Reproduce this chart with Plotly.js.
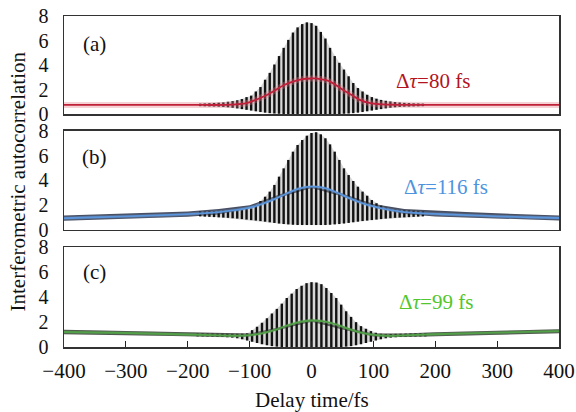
<!DOCTYPE html>
<html>
<head>
<meta charset="utf-8">
<script src="https://cdn.plot.ly/plotly-3.0.1.min.js"></script>
<style>html,body{margin:0;padding:0;background:#fff;}#chart{width:576px;height:412px;}</style>
</head>
<body>
<div id="chart"></div>
<script>
// ---------- Data ----------
// Panel (a): fringe positions (fs), fringe maxima and minima
var fringeDelayA = [-180,-172.5,-165,-157.5,-150,-142.5,-135,-127.5,-120,-112.5,-105,-97.5,-90,-82.5,-75,-67.5,-60,-52.5,-45,-37.5,-30,-22.5,-15,-7.5,0,7.5,15,22.5,30,37.5,45,52.5,60,67.5,75,82.5,90,97.5,105,112.5,120,127.5,135,142.5,150,157.5,165,172.5,180];
var fringeUpperA = [0.85,0.86,0.88,0.9,0.92,0.95,1.0,1.05,1.12,1.22,1.38,1.5,1.84,2.2,2.8,3.36,4.04,4.73,5.4,6.05,6.65,7.07,7.34,7.48,7.42,7.2,6.7,6.16,5.4,4.73,4.18,3.63,3.08,2.53,2.12,1.84,1.57,1.38,1.25,1.15,1.08,1.02,0.98,0.94,0.91,0.89,0.87,0.86,0.85];
var fringeLowerA = [0.64,0.63,0.62,0.61,0.6,0.58,0.55,0.51,0.46,0.4,0.34,0.28,0.22,0.16,0.11,0.07,0.04,0.02,0,0,0,0,0,0,0,0,0,0,0,0,0,0.02,0.04,0.07,0.11,0.16,0.22,0.28,0.34,0.4,0.46,0.51,0.55,0.58,0.6,0.61,0.62,0.63,0.64];
var envDelayA = [-400,-200,-130,-105,-88,-72,-60,-45,-30,-15,0,10,25,40,50,65,78,95,115,140,200,400];
var envA      = [0.74,0.74,0.76,0.88,1.2,1.55,1.9,2.35,2.65,2.85,2.9,2.88,2.75,2.35,2.0,1.55,1.15,0.88,0.78,0.75,0.74,0.74];

// Panel (b)
var fringeDelayB = [-180,-172.5,-165,-157.5,-150,-142.5,-135,-127.5,-120,-112.5,-105,-97.5,-90,-82.5,-75,-67.5,-60,-52.5,-45,-37.5,-30,-22.5,-15,-7.5,0,7.5,15,22.5,30,37.5,45,52.5,60,67.5,75,82.5,90,97.5,105,112.5,120,127.5,135,142.5,150,157.5,165,172.5,180];
var fringeUpperB = [1.5,1.5,1.52,1.53,1.55,1.57,1.58,1.6,1.63,1.66,1.7,1.75,2.02,2.34,2.69,3.1,3.64,4.31,4.98,5.66,6.33,6.87,7.27,7.62,7.84,7.9,7.73,7.41,6.92,6.33,5.66,4.98,4.44,3.96,3.5,3.1,2.77,2.42,2.16,1.97,1.8,1.7,1.65,1.62,1.6,1.58,1.55,1.52,1.5];
var fringeLowerB = [1.1,1.08,1.06,1.04,1.02,1.0,0.98,0.95,0.92,0.88,0.84,0.8,0.76,0.72,0.67,0.62,0.57,0.52,0.48,0.45,0.42,0.4,0.4,0.4,0.4,0.4,0.4,0.4,0.42,0.45,0.48,0.52,0.57,0.62,0.67,0.72,0.76,0.8,0.84,0.88,0.92,0.95,0.98,1.0,1.02,1.04,1.06,1.08,1.1];
var bandDelayB = [-400,-350,-300,-250,-200,-150,-100,-50,0,50,100,150,200,250,300,350,400];
var bandUpperB = [1.18,1.26,1.33,1.41,1.5,1.7,2.0,2.9,3.55,2.95,2.1,1.7,1.55,1.45,1.35,1.26,1.18];
var bandLowerB = [0.74,0.82,0.9,0.98,1.08,1.25,1.75,2.65,3.4,2.7,1.85,1.3,1.1,1.0,0.92,0.84,0.76];
var envDelayB = [-400,-350,-300,-250,-200,-150,-120,-100,-80,-60,-40,-20,0,20,40,60,80,100,120,150,200,250,300,350,400];
var envB      = [0.95,1.03,1.1,1.18,1.28,1.45,1.62,1.8,2.1,2.5,2.95,3.35,3.5,3.4,3.05,2.6,2.2,1.9,1.68,1.45,1.3,1.2,1.1,1.03,0.97];

// Panel (c)
var fringeDelayC = [-184,-176,-168,-160,-152,-144,-136,-128,-120,-112,-104,-96,-88,-80,-72,-64,-56,-48,-40,-32,-24,-16,-8,0,8,16,24,32,40,48,56,64,72,80,88,96,104,112,120,128,136,144,152,160,168,176,184];
var fringeUpperC = [1.08,1.08,1.07,1.07,1.06,1.06,1.05,1.05,1.05,1.06,1.09,1.35,1.62,1.94,2.3,2.68,3.05,3.47,3.92,4.27,4.64,4.9,5.11,5.19,5.16,5.03,4.72,4.32,3.92,3.39,2.86,2.41,1.99,1.67,1.46,1.27,1.14,1.06,1.04,1.04,1.05,1.06,1.07,1.08,1.09,1.1,1.1];
var fringeLowerC = [0.85,0.85,0.84,0.83,0.82,0.8,0.78,0.75,0.7,0.62,0.52,0.42,0.32,0.22,0.14,0.07,0.03,0,0,0,0,0,0,0,0,0,0,0,0,0,0.03,0.07,0.14,0.22,0.32,0.42,0.52,0.62,0.7,0.75,0.78,0.8,0.82,0.83,0.84,0.85,0.85];
var bandDelayC = [-400,-300,-200,-150,-100,-50,0,50,100,150,200,300,400];
var bandUpperC = [1.38,1.28,1.14,1.08,1.08,1.6,2.22,1.6,1.08,1.08,1.18,1.3,1.42];
var bandLowerC = [1.02,0.96,0.86,0.8,0.85,1.4,2.02,1.4,0.85,0.8,0.88,1.0,1.1];
var envDelayC = [-400,-300,-200,-150,-120,-100,-80,-60,-40,-20,0,20,40,60,80,100,120,150,200,300,400];
var envC      = [1.2,1.12,1.0,0.93,0.9,0.95,1.1,1.35,1.7,2.0,2.12,2.05,1.8,1.45,1.15,0.97,0.9,0.93,1.02,1.15,1.27];

var xTicks = [-400,-300,-200,-100,0,100,200,300,400];
var yTicks = [0,2,4,6,8];
var panelLabels = ['(a)','(b)','(c)'];
var widthLabels = ['80 fs','116 fs','99 fs'];

// ---------- Build traces ----------
var FONT = "'Liberation Serif', 'Times New Roman', Times, serif";
function fringeTrace(dx, up, lo, xa, ya) {
  var xs = [], ys = [];
  for (var i = 0; i < dx.length; i++) {
    xs.push(dx[i], dx[i], null);
    ys.push(lo[i], up[i], null);
  }
  return {x: xs, y: ys, xaxis: xa, yaxis: ya, type: 'scatter', mode: 'lines',
    line: {color: '#121212', width: 2.4}, hoverinfo: 'skip', showlegend: false, connectgaps: false};
}
function fillTrace(dx, up, lo, xa, ya, col) {
  var xs = dx.slice(), ys = up.slice();
  for (var i = dx.length - 1; i >= 0; i--) { xs.push(dx[i]); ys.push(lo[i]); }
  return {x: xs, y: ys, xaxis: xa, yaxis: ya, type: 'scatter', mode: 'lines', fill: 'toself',
    fillcolor: col, line: {color: col, width: 0}, hoverinfo: 'skip', showlegend: false};
}
function envTraces(dx, v, xa, ya, col, halo, hw) {
  return [
    {x: dx, y: v, xaxis: xa, yaxis: ya, type: 'scatter', mode: 'lines',
     line: {color: halo, width: hw, shape: 'spline'}, hoverinfo: 'skip', showlegend: false},
    {x: dx, y: v, xaxis: xa, yaxis: ya, type: 'scatter', mode: 'lines',
     line: {color: col, width: 1.8, shape: 'spline'}, hoverinfo: 'skip', showlegend: false}
  ];
}

var GRAY = 'rgba(140,140,140,0.35)';
var data = [];
data.push(fillTrace(fringeDelayA, fringeUpperA, fringeLowerA, 'x', 'y', GRAY));
data.push(fringeTrace(fringeDelayA, fringeUpperA, fringeLowerA, 'x', 'y'));
data = data.concat(envTraces(envDelayA, envA, 'x', 'y', '#c0203a', 'rgba(225,120,135,0.35)', 6));

data.push(fillTrace(bandDelayB, bandUpperB, bandLowerB, 'x2', 'y2', 'rgba(20,30,55,0.78)'));
data.push(fillTrace(fringeDelayB, fringeUpperB, fringeLowerB, 'x2', 'y2', GRAY));
data.push(fringeTrace(fringeDelayB, fringeUpperB, fringeLowerB, 'x2', 'y2'));
data = data.concat(envTraces(envDelayB, envB, 'x2', 'y2', '#5b95dc', 'rgba(130,170,225,0.25)', 3.5));

data.push(fillTrace(bandDelayC, bandUpperC, bandLowerC, 'x3', 'y3', 'rgba(25,30,25,0.8)'));
data.push(fillTrace(fringeDelayC, fringeUpperC, fringeLowerC, 'x3', 'y3', GRAY));
data.push(fringeTrace(fringeDelayC, fringeUpperC, fringeLowerC, 'x3', 'y3'));
data = data.concat(envTraces(envDelayC, envC, 'x3', 'y3', '#52a048', 'rgba(130,200,120,0.25)', 3.5));

// ---------- Layout ----------
function xAxis(bottom) {
  return {domain: [0, 1], range: [-400, 400], tickvals: xTicks, showticklabels: bottom,
    ticks: bottom ? 'inside' : '', ticklen: 6, tickwidth: 1.2, tickcolor: '#222',
    showline: true, mirror: true, linecolor: '#333', linewidth: 1.5,
    showgrid: false, zeroline: false, ticklabelstandoff: 4,
    tickfont: {family: FONT, size: 21, color: '#111'}};
}
function yAxis(dom) {
  return {domain: dom, range: [0, 8], tickvals: yTicks, ticks: '',
    showline: true, mirror: true, linecolor: '#333', linewidth: 1.5,
    showgrid: false, zeroline: false, ticklabelstandoff: 10,
    tickfont: {family: FONT, size: 20, color: '#111'}};
}
var anns = [];
var yrefs = ['y', 'y2', 'y3'], xrefs = ['x', 'x2', 'x3'];
var labY = [5.7, 5.9, 6.0];
var wX = [196, 217, 201], wY = [2.7, 3.45, 3.6];
var wCol = ['#b3141f', '#4d94e0', '#52c62a'];
for (var k = 0; k < 3; k++) {
  anns.push({xref: xrefs[k], yref: yrefs[k], x: -350, y: labY[k], xanchor: 'center', yanchor: 'middle',
    text: panelLabels[k], showarrow: false, font: {family: FONT, size: 21, color: '#111'}});
  anns.push({xref: xrefs[k], yref: yrefs[k], x: wX[k], y: wY[k], xanchor: 'center', yanchor: 'middle',
    text: 'Δ<i>τ</i>=' + widthLabels[k], showarrow: false,
    font: {family: FONT, size: 21, color: wCol[k]}});
}
anns.push({xref: 'paper', yref: 'paper', x: 0.5, y: 0, yshift: -53, xanchor: 'center', yanchor: 'middle',
  text: 'Delay time/fs', showarrow: false, font: {family: FONT, size: 21, color: '#111'}});
anns.push({xref: 'paper', yref: 'paper', x: -0.093, y: 0.5, xanchor: 'center', yanchor: 'middle', textangle: -90,
  text: 'Interferometric autocorrelation', showarrow: false,
  font: {family: FONT, size: 21, color: '#111'}});

var layout = {
  width: 576, height: 412,
  margin: {l: 64, r: 17, t: 16, b: 65},
  paper_bgcolor: '#fff', plot_bgcolor: '#fff',
  font: {family: FONT, size: 21, color: '#111'},
  showlegend: false,
  xaxis: xAxis(false), yaxis: yAxis([0.7039, 1]),
  xaxis2: Object.assign(xAxis(false), {anchor: 'y2'}), yaxis2: Object.assign(yAxis([0.3535, 0.6526]), {anchor: 'x2'}),
  xaxis3: Object.assign(xAxis(true), {anchor: 'y3'}), yaxis3: Object.assign(yAxis([0, 0.302]), {anchor: 'x3'}),
  annotations: anns
};
layout.xaxis.anchor = 'y';
layout.yaxis.anchor = 'x';

Plotly.newPlot('chart', data, layout, {staticPlot: true, displayModeBar: false});
</script>
</body>
</html>
